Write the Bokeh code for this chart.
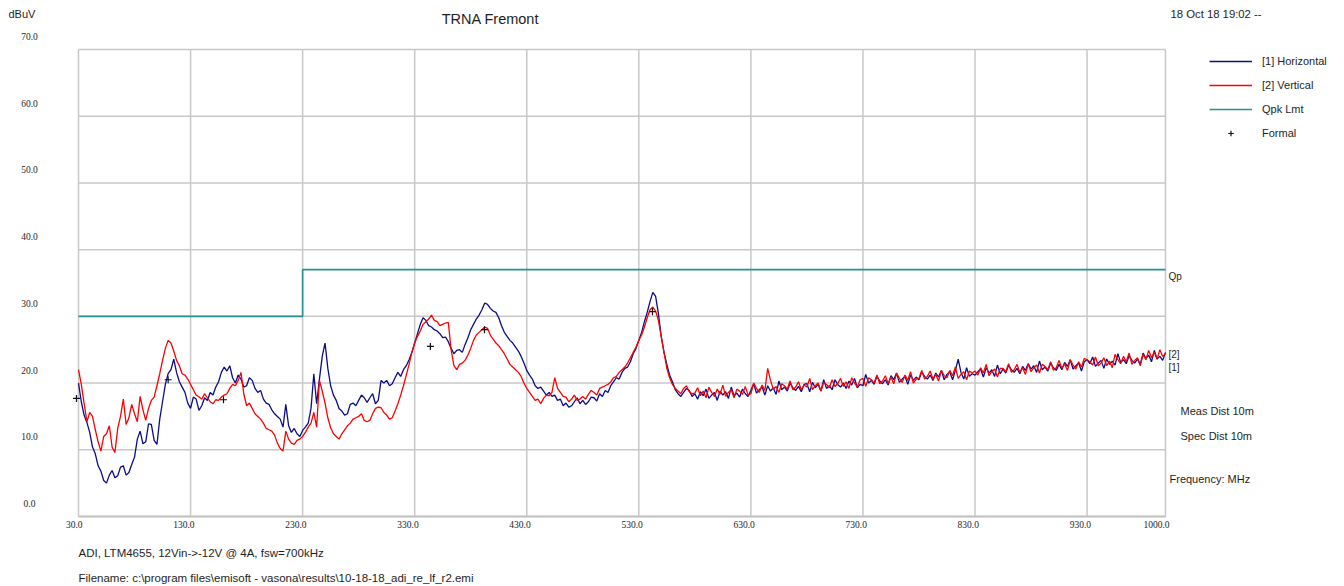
from bokeh.plotting import figure
from bokeh.models import ColumnDataSource, Label, LabelSet, Legend, LegendItem, Range1d
from bokeh.embed import file_html
from bokeh.resources import INLINE

# ---------------- data ----------------
freq = [30 + 2.5 * i for i in range(389)]  # MHz sweep points, 30 .. 1000

horizontal = [
    20.0, 17.2, 15.2, 14.1, 12.6, 10.4, 9.4, 7.6, 6.8, 5.4, 5.0, 6.2, 6.9, 5.8, 6.1, 7.4, 7.6, 6.2, 6.6, 7.8,            # 30
    8.9, 11.6, 12.8, 10.9, 11.2, 13.9, 13.8, 11.4, 10.8, 14.6, 17.2, 19.8, 21.4, 22.0, 23.6, 21.6, 20.2, 19.4, 18.6, 17.0,  # 80
    16.2, 17.9, 17.6, 15.9, 16.6, 17.8, 17.4, 18.6, 18.2, 19.4, 20.2, 21.6, 22.4, 21.8, 22.6, 20.8, 20.0, 21.2, 20.6, 19.4,  # 130
    19.6, 20.8, 20.4, 19.2, 18.6, 18.9, 17.6, 17.0, 16.8, 16.0, 15.4, 15.0, 14.6, 13.4, 16.8, 13.6, 12.6, 13.2, 12.4, 12.0,  # 180
    12.9, 13.4, 14.0, 16.2, 21.4, 16.9, 20.6, 24.0, 26.0, 22.2, 19.6, 18.2, 17.4, 16.2, 15.8, 15.2, 15.4, 16.8, 17.0, 16.6,  # 230
    17.4, 18.2, 17.8, 17.1, 17.8, 18.4, 16.9, 17.4, 20.4, 20.0, 20.4, 19.6, 19.9, 20.8, 21.6, 21.0, 22.0, 22.6, 23.5, 24.6,  # 280
    26.0, 27.4, 28.8, 29.8, 29.4, 28.6, 28.4, 28.0, 27.8, 27.4, 26.8, 26.9, 26.2, 25.2, 24.4, 24.9, 25.0, 24.6, 25.8, 26.8,  # 330
    28.0, 28.8, 29.6, 30.2, 31.0, 32.0, 31.8, 31.2, 30.8, 30.6, 29.8, 28.6, 27.6, 27.0, 26.4, 26.0, 25.4, 24.8, 24.0, 23.0,  # 380
    21.9, 21.2, 20.6, 19.6, 19.2, 19.4, 18.8, 18.2, 18.6, 18.0, 18.2, 17.4, 17.6, 16.6, 17.0, 16.4, 16.6, 17.2, 17.8, 16.9,  # 430
    17.4, 16.8, 17.2, 17.9, 17.8, 17.3, 18.4, 18.0, 18.9, 18.6, 19.6, 20.2, 20.8, 20.6, 21.6, 22.2, 22.4, 23.2, 24.4, 25.2,  # 480
    26.4, 27.6, 29.2, 30.6, 32.2, 33.6, 33.0, 30.4, 27.0, 24.6, 22.8, 21.2, 20.2, 19.0, 18.4, 18.0, 18.6, 19.2, 18.9, 18.0,  # 530
    18.4, 17.6, 18.7, 18.1, 19.1, 17.7, 18.2, 18.6, 17.4, 18.8, 18.2, 18.7, 17.7, 19.4, 18.1, 18.5, 17.9, 19.1, 18.4, 18.0,  # 580
    18.9, 19.9, 18.5, 19.0, 19.4, 18.2, 19.6, 18.8, 19.3, 18.3, 20.3, 19.0, 19.4, 18.8, 20.0, 19.3, 18.9, 19.5, 18.7, 19.8,  # 630
    19.9, 18.7, 20.1, 19.3, 19.8, 18.8, 20.5, 19.2, 19.6, 19.0, 20.5, 19.8, 19.4, 20.0, 19.2, 20.3, 19.7, 20.7, 19.3, 19.8,  # 680
    19.6, 21.3, 20.0, 20.4, 19.8, 21.0, 20.3, 19.9, 20.5, 19.7, 21.1, 20.5, 21.5, 20.1, 20.6, 21.0, 19.8, 21.2, 20.4, 20.9,  # 730
    20.5, 21.7, 21.0, 20.6, 21.2, 20.4, 21.5, 20.9, 21.9, 20.5, 21.3, 21.7, 20.5, 21.9, 23.6, 21.6, 20.6, 22.3, 21.0, 21.4,  # 780
    21.2, 21.7, 22.1, 20.9, 22.3, 21.5, 22.0, 21.0, 22.7, 21.4, 22.1, 21.5, 22.7, 22.0, 21.6, 22.2, 21.4, 22.5, 21.9, 22.9,  # 830
    22.1, 22.6, 21.6, 23.3, 22.0, 22.4, 21.8, 23.0, 22.3, 21.9, 22.8, 22.0, 23.1, 22.5, 23.5, 22.1, 22.6, 23.0, 21.8, 23.2,  # 880
    23.5, 22.9, 23.9, 22.5, 23.0, 23.4, 22.2, 23.6, 22.8, 23.3, 22.7, 24.4, 23.1, 23.5, 22.9, 24.1, 23.4, 23.0, 23.6, 22.8,  # 930
    24.5, 23.7, 24.2, 23.2, 24.9, 23.6, 24.0, 23.4, 24.6,                                                                  # 980
]

vertical = [
    22.0, 19.8, 17.0, 14.2, 15.6, 15.0, 13.0, 11.2, 9.8, 12.0, 12.4, 13.6, 10.4, 9.6, 13.2, 15.0, 17.6, 13.8, 14.8, 16.8,   # 30
    15.4, 14.2, 18.0, 16.0, 14.4, 16.2, 17.4, 17.9, 19.6, 21.4, 23.4, 25.2, 26.4, 26.0, 24.8, 23.4, 22.6, 21.4, 21.2, 20.6,  # 80
    19.8, 19.0, 18.2, 17.9, 17.6, 18.4, 17.8, 17.2, 16.9, 17.5, 17.4, 17.9, 18.2, 18.4, 19.2, 19.8, 19.6, 20.4, 21.6, 18.4,  # 130
    16.6, 17.0, 16.2, 15.4, 15.0, 14.6, 14.0, 13.2, 13.0, 12.8, 12.2, 11.0, 10.2, 9.8, 12.8, 11.6, 11.0, 10.8, 11.4, 11.6,   # 180
    12.0, 12.6, 13.4, 14.0, 15.6, 13.4, 20.4, 18.8, 17.0, 14.8, 13.3, 12.4, 12.0, 11.6, 12.4, 13.0, 13.6, 14.0, 14.6, 14.8,  # 230
    15.0, 15.4, 14.4, 14.2, 14.4, 15.4, 16.2, 16.4, 16.3, 15.6, 15.2, 14.6, 14.8, 15.8, 16.9, 18.2, 19.6, 21.2, 22.8, 24.6,  # 280
    26.0, 27.0, 27.8, 28.8, 29.2, 29.6, 30.2, 29.4, 29.2, 28.6, 28.8, 29.0, 29.1, 25.0, 22.6, 22.0, 22.8, 23.0, 23.4, 24.2,  # 330
    25.2, 26.4, 27.2, 27.6, 28.0, 28.4, 28.2, 27.2, 26.6, 26.0, 25.6, 25.0, 24.4, 23.6, 22.8, 22.4, 22.0, 21.6, 21.0, 20.0,  # 380
    19.2, 18.6, 18.0, 17.4, 17.6, 16.9, 17.7, 18.2, 18.1, 18.6, 20.8, 19.2, 18.6, 18.0, 17.9, 17.2, 17.6, 18.2, 17.4, 17.6,  # 430
    18.0, 17.6, 18.3, 18.9, 18.6, 18.2, 19.2, 19.4, 19.6, 19.8, 20.2, 20.8, 21.0, 21.6, 22.0, 22.4, 23.0, 23.8, 24.6, 25.4,  # 480
    26.4, 27.2, 28.4, 29.8, 31.0, 31.4, 30.8, 29.4, 27.0, 24.6, 22.2, 20.8, 19.8, 19.2, 18.8, 18.4, 19.2, 19.6, 18.7, 18.4,  # 530
    18.5, 19.3, 18.1, 18.8, 17.8, 19.4, 18.6, 18.0, 19.1, 18.3, 19.7, 18.0, 18.6, 19.0, 17.8, 19.1, 18.8, 18.3, 19.5, 18.2,  # 580
    18.4, 20.0, 19.2, 18.6, 19.7, 18.9, 22.2, 20.4, 19.1, 19.5, 18.6, 19.9, 19.6, 19.1, 20.3, 19.0, 19.4, 20.2, 19.0, 19.7,  # 630
    19.4, 20.7, 19.0, 19.6, 20.0, 18.8, 20.1, 19.8, 19.3, 20.5, 19.5, 19.9, 20.7, 19.5, 20.2, 19.2, 20.8, 20.0, 19.4, 20.5,  # 680
    20.7, 19.5, 20.8, 20.5, 20.0, 21.2, 19.9, 20.3, 21.1, 19.9, 20.9, 19.9, 21.5, 20.7, 20.1, 21.2, 20.4, 21.7, 20.0, 20.6,  # 730
    20.7, 21.9, 20.6, 21.0, 21.8, 20.6, 21.3, 20.3, 21.9, 21.1, 20.8, 21.9, 21.1, 22.4, 20.7, 21.3, 21.7, 20.5, 21.8, 21.5,  # 780
    21.8, 21.2, 22.3, 21.5, 22.8, 21.1, 21.7, 22.1, 20.9, 22.2, 22.2, 21.7, 22.9, 21.6, 22.0, 22.8, 21.6, 22.3, 21.3, 22.9,  # 830
    21.7, 22.3, 22.7, 21.5, 22.8, 22.5, 22.0, 23.2, 21.9, 22.3, 23.4, 22.2, 22.9, 21.9, 23.5, 22.7, 22.1, 23.2, 22.4, 23.7,  # 880
    23.5, 23.2, 22.7, 23.9, 22.6, 23.0, 23.8, 22.6, 23.3, 22.3, 24.3, 23.5, 22.9, 24.0, 23.2, 24.5, 22.8, 23.4, 23.8, 22.6,  # 930
    24.3, 23.5, 24.9, 23.8, 24.6, 23.6, 25.0, 24.0, 24.4,                                                                  # 980
]

limit_freq = [30, 230, 230, 1000]
limit_db = [30, 30, 37, 37]

formal_freq = [28.2, 110, 159.4, 344, 392.3, 542.2]
formal_db = [17.7, 20.5, 17.5, 25.5, 28.0, 30.7]

x_ticks = [30, 130, 230, 330, 430, 530, 630, 730, 830, 930, 1000]
x_tick_labels = ["30.0", "130.0", "230.0", "330.0", "430.0", "530.0",
                 "630.0", "730.0", "830.0", "930.0", "1000.0"]
y_ticks = [0, 10, 20, 30, 40, 50, 60, 70]
y_tick_labels = ["0.0", "10.0", "20.0", "30.0", "40.0", "50.0", "60.0", "70.0"]

assert len(horizontal) == len(freq) == len(vertical)

# ---------------- styling / layout ----------------
FONT = "Liberation Sans"
TXT = "#1e1e1e"
GRID = "#c8c8c8"
C_H = "#0c0c86"
C_V = "#ff0000"
C_L = "#2a9090"

W, H = 1344, 586
X0, X1, Y0, Y1 = 30, 1000, 0, 70
FL, FR, FT, FB = 78, 1165, 49, 516   # chart rectangle in page pixels
KX = (X1 - X0) / (FR - FL)
KY = (Y1 - Y0) / (FB - FT)


def fx(px):
    return X0 + (px - FL) * KX


def fy(py):
    return Y0 + (FB - py) * KY


p = figure(width=W, height=H,
           x_range=Range1d(fx(0), fx(W)), y_range=Range1d(fy(H), fy(0)),
           output_backend="svg", toolbar_location=None, title=None,
           x_axis_location=None, y_axis_location=None,
           min_border=0, min_border_left=0, min_border_right=0,
           min_border_top=0, min_border_bottom=0)
p.background_fill_color = "white"
p.border_fill_color = "white"
p.outline_line_color = None
p.xgrid.visible = False
p.ygrid.visible = False

# grid / frame lines built from the tick arrays
p.segment(x0=x_ticks, y0=[Y0] * len(x_ticks), x1=x_ticks, y1=[Y1] * len(x_ticks),
          line_color=GRID, line_width=1.5)
p.segment(x0=[X0] * len(y_ticks), y0=y_ticks, x1=[X1] * len(y_ticks), y1=y_ticks,
          line_color=GRID, line_width=1.5)
p.segment(x0=[X0], y0=[Y0], x1=[X1], y1=[Y0], line_color="#c4c4c4", line_width=2)

src = ColumnDataSource(dict(freq=freq, horizontal=horizontal, vertical=vertical))
r_lim = p.line(limit_freq, limit_db, line_color=C_L, line_width=1.6)
r_h = p.line("freq", "horizontal", source=src, line_color=C_H, line_width=1.3)
r_v = p.line("freq", "vertical", source=src, line_color=C_V, line_width=1.3)
r_f = p.scatter(formal_freq, formal_db, marker="cross", size=7,
                line_color="#111111", line_width=1.2)

# tick labels
ysrc = ColumnDataSource(dict(x=[X0] * len(y_ticks), y=y_ticks, t=y_tick_labels))
p.add_layout(LabelSet(x="x", y="y", text="t", source=ysrc, x_offset=-49, y_offset=13,
                      text_align="center", text_baseline="middle",
                      text_font=FONT, text_font_size="9.5px", text_color=TXT))
xsrc = ColumnDataSource(dict(x=x_ticks, y=[Y0] * len(x_ticks), t=x_tick_labels))
p.add_layout(LabelSet(x="x", y="y", text="t", source=xsrc, x_offset=4, y_offset=-8,
                      text_align="right", text_baseline="middle",
                      text_font=FONT, text_font_size="9.5px", text_color=TXT))


def add_text(text, px, py, size="11px", align="left", baseline="middle"):
    p.add_layout(Label(x=fx(px), y=fy(py), text=text, text_font=FONT,
                       text_font_size=size, text_color=TXT,
                       text_align=align, text_baseline=baseline))


add_text("dBuV", 8, 13, "11px")
add_text("TRNA Fremont", 490, 18, "14.5px", align="center")
add_text("18 Oct 18 19:02 --", 1170, 13, "11.3px")
add_text("Qp", 1168, 276, "10px")
add_text("[2]", 1168, 354, "10px")
add_text("[1]", 1168, 367, "10px")
add_text("Meas Dist 10m", 1180, 410, "11px")
add_text("Spec Dist 10m", 1180, 435, "11px")
add_text("Frequency: MHz", 1169, 478, "11px")
add_text("ADI, LTM4655, 12Vin->-12V @ 4A, fsw=700kHz", 78, 552, "11.5px")
add_text("Filename: c:\\program files\\emisoft - vasona\\results\\10-18-18_adi_re_lf_r2.emi",
         78, 577, "11.5px")

legend = Legend(items=[
    LegendItem(label="[1] Horizontal", renderers=[r_h]),
    LegendItem(label="[2] Vertical", renderers=[r_v]),
    LegendItem(label="Qpk Lmt", renderers=[r_lim]),
    LegendItem(label="Formal", renderers=[r_f]),
], location=(1209, H - 140), orientation="vertical",
    glyph_width=43, glyph_height=14, label_height=14, label_standoff=10,
    spacing=10, padding=0, margin=0, border_line_color=None,
    background_fill_alpha=0, label_text_font=FONT, label_text_font_size="11px",
    label_text_color=TXT)
p.add_layout(legend)

open("out.html", "w").write(file_html(p, INLINE))
